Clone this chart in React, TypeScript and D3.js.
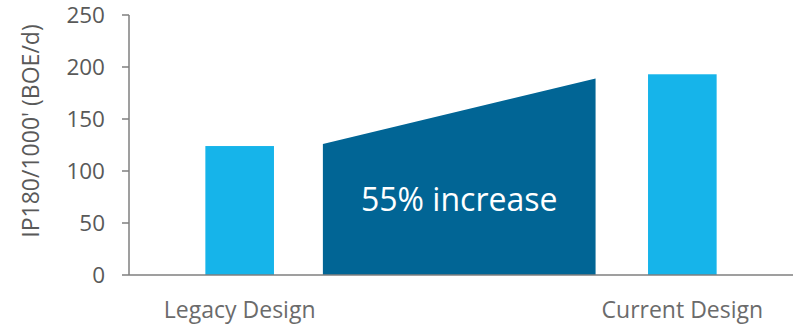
import React from "react";
import * as d3 from "d3";

const categories = ["Legacy Design", "Current Design"];
const slots = ["Legacy Design", "change", "Current Design"];
const barValues = [124, 193];
const trendStart = 126;
const trendEnd = 189;
const trendLabel = "55% increase";
const yTicks = [0, 50, 100, 150, 200, 250];
const yTitle = "IP180/1000' (BOE/d)";

const W = 797;
const H = 324;
const M = { left: 129, right: 4, top: 15, bottom: 49 };

export default function App() {
  const y = d3.scaleLinear().domain([0, 250]).range([H - M.bottom, M.top]);
  const x = d3.scaleBand().domain(slots).range([M.left, W - M.right]).padding(0);
  const step = x.step();
  const barW = step * 0.31;
  const center = (c: string) => (x(c) as number) + x.bandwidth() / 2;
  const x0 = center(categories[0]) + step * 0.376;
  const x1 = center(categories[1]) - step * 0.392;
  const area = d3
    .area<[number, number]>()
    .x((d) => d[0])
    .y0(y(0))
    .y1((d) => y(d[1]));
  const trap = area([
    [x0, trendStart],
    [x1, trendEnd],
  ]) as string;
  const font = "'Open Sans', sans-serif";
  const gray = "#595959";
  return (
    <svg
      width={W}
      height={H}
      style={{ position: "absolute", left: 0, top: 0, background: "#fff" }}
      fontFamily={font}
    >
      {categories.map((c, i) => (
        <rect
          key={c}
          x={center(c) - barW / 2}
          y={y(barValues[i])}
          width={barW}
          height={y(0) - y(barValues[i])}
          fill="#16B4EA"
        />
      ))}
      <path d={trap} fill="#016595" />
      <text
        x={(x0 + x1) / 2}
        y={211}
        textAnchor="middle"
        fill="#fff"
        fontSize={32}
      >
        {trendLabel}
      </text>
      <line x1={M.left} x2={W - M.right} y1={y(0)} y2={y(0)} stroke="#7f7f7f" strokeWidth={1.5} />
      <line x1={M.left} x2={M.left} y1={y(0)} y2={y(250)} stroke="#7f7f7f" strokeWidth={1.5} />
      {yTicks.map((t) => (
        <g key={t}>
          <line x1={M.left - 7} x2={M.left} y1={y(t)} y2={y(t)} stroke="#7f7f7f" strokeWidth={1.5} />
          <text x={105} y={y(t)} dy="0.36em" textAnchor="end" fontSize={22.5} fill={gray}>
            {t}
          </text>
        </g>
      ))}
      {categories.map((c) => (
        <text key={c} x={center(c)} y={318} textAnchor="middle" fontSize={23} fill="#6b6b6b">
          {c}
        </text>
      ))}
      <text
        transform={`translate(39,${(y(0) + y(250)) / 2 - 14}) rotate(-90)`}
        textAnchor="middle"
        fontSize={23}
        fill={gray}
      >
        {yTitle}
      </text>
    </svg>
  );
}
